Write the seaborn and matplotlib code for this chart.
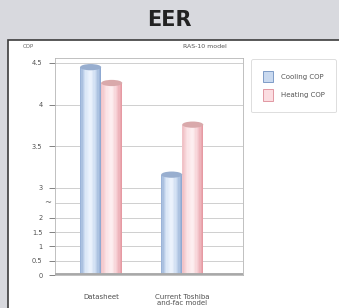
import numpy as np
import pandas as pd
import matplotlib
matplotlib.use("Agg")
import matplotlib.pyplot as plt
import seaborn as sns
from matplotlib.patches import Rectangle, Ellipse, Patch
from matplotlib.colors import LinearSegmentedColormap
import matplotlib.transforms as mtransforms

# -------------------------------
# Data
# -------------------------------
categories = ["Datasheet", "Current Toshiba\nand-fac model"]
series = ["Cooling COP", "Heating COP"]
cooling_cop = [4.45, 3.16]
heating_cop = [4.26, 3.76]
y_ticks = [0, 0.5, 1, 1.5, 2, 3, 3.5, 4, 4.5]
y_tick_labels = ["0", "0.5", "1", "1.5", "2", "3", "3.5", "4", "4.5"]

# broken y axis: 0-2 compressed, 3-4.5 stretched
scale_vals = [0, 2, 3, 10]
scale_pos = [0, 57, 87, 87 + 7 * 83.3]


def fwd(v):
    return np.interp(v, scale_vals, scale_pos)


def inv(p):
    return np.interp(p, scale_pos, scale_vals)


df = pd.DataFrame({
    "category": categories * 2,
    "series": [series[0]] * 2 + [series[1]] * 2,
    "value": cooling_cop + heating_cop,
})

sns.set_theme(style="white")
plt.rcParams["font.family"] = ["DejaVu Sans"]

BLUE = "#a9bfdf"
PINK = "#f0b8be"
shades = {
    BLUE: LinearSegmentedColormap.from_list(
        "b", ["#9ab3d8", "#dbe7f7", "#eef4fd", "#c9d9ef", "#8ea9d2"]),
    PINK: LinearSegmentedColormap.from_list(
        "p", ["#f1c3c8", "#fbe3e6", "#fdf0f1", "#f5ccd1", "#e69aa3"]),
}
tops = {BLUE: "#98aecf", PINK: "#d9a9ab"}

fig = plt.figure(figsize=(3.39, 3.08), dpi=100)
fig.patch.set_facecolor("#d8d9de")

# white panel with dark top/left border
panel = Rectangle((8 / 339, -0.05), 1, 1.05 - 40 / 308, transform=fig.transFigure,
                  facecolor="white", edgecolor="#3c3c3c", lw=1.2, zorder=-5)
fig.patches.append(panel)
fig.text(0.5, 1 - 20 / 308, "EER", ha="center", va="center",
         fontsize=15, fontweight="bold", color="#222222")

ax = fig.add_axes([55 / 339, 33 / 308, 188 / 339, 217 / 308], zorder=2)
ax.set_facecolor("none")
ax.set_yscale("function", functions=(fwd, inv))

sns.barplot(data=df, x="category", y="value", hue="series",
            palette=[BLUE, PINK], width=0.52, legend=False, ax=ax,
            saturation=1, edgecolor="none")

# cylinder shading from the bars seaborn drew
for bar in list(ax.patches):
    fc = matplotlib.colors.to_hex(bar.get_facecolor())
    key = BLUE if fc == BLUE else PINK
    x0, w, h = bar.get_x(), bar.get_width(), bar.get_height()
    n = 16
    xs = x0 + (np.arange(n) + 0.5) * w / n
    ax.bar(xs, [h] * n, width=w / n * 1.02, bottom=0,
           color=[shades[key](i / (n - 1)) for i in range(n)],
           linewidth=0, zorder=3)
    ax.add_patch(Ellipse((x0 + w / 2, h), w, 0.075, facecolor=tops[key],
                         edgecolor="none", zorder=4))
    bar.set_visible(False)

ax.set_xlim(-0.57, 1.75)
ax.set_ylim(0, 4.56)
ax.set_yticks(y_ticks)
ax.set_yticklabels(y_tick_labels)
ax.yaxis.grid(True, color="#c8c8c8", lw=0.6)
ax.axhline(2.5, color="#c8c8c8", lw=0.6, zorder=1)
ax.set_axisbelow(True)
ax.axhline(0, color="#a8a8a8", lw=3.5, zorder=5)

ax.tick_params(axis="y", labelsize=4.8, colors="#505050", length=4,
               width=0.5, pad=5, direction="out", left=True)
ax.tick_params(axis="x", labelsize=5, colors="#505050", length=0, pad=14)
for lab in ax.get_xticklabels():
    lab.set_linespacing(0.9)
ax.set_xlabel("")
ax.set_ylabel("")
for s in ax.spines.values():
    s.set_color("#b5b5b5")
    s.set_linewidth(0.6)

# axis break marker
trans = mtransforms.blended_transform_factory(ax.transAxes, ax.transData)
ax.text(-0.04, 2.5, "~", transform=trans, ha="center", va="center",
        fontsize=6, color="#666666")

fig.text(23 / 339, 1 - 47 / 308, "COP", fontsize=4, color="#666666",
         ha="left", va="center")
fig.text(205 / 339, 1 - 47 / 308, "RAS-10 model", fontsize=4.5,
         color="#555555", ha="center", va="center")

handles = [Patch(facecolor="#c9d9ef", edgecolor="#6f8fc0", lw=0.6),
           Patch(facecolor="#fbdde1", edgecolor="#dc8a96", lw=0.6)]
leg = fig.legend(handles, series, loc="upper left",
                 bbox_to_anchor=(248 / 339, 1 - 56 / 308),
                 fontsize=5, frameon=True, fancybox=True,
                 handlelength=1.5, handleheight=2.2, borderpad=1.6,
                 labelspacing=1.0, handletextpad=1.1)
leg.get_frame().set_edgecolor("#cfcfcf")
leg.get_frame().set_linewidth(0.6)
for t in leg.get_texts():
    t.set_color("#555555")

fig.savefig("out.png", dpi=100)
